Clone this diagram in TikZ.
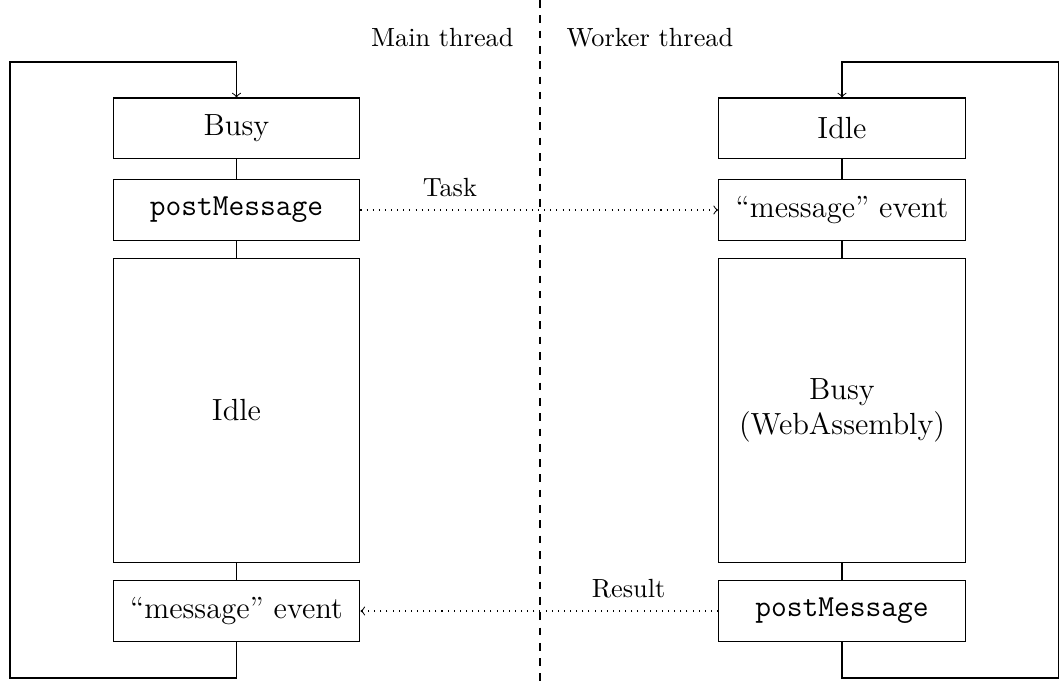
\documentclass[tikz,border=0pt]{standalone}
\usetikzlibrary{arrows}
\begin{document}
\begin{tikzpicture}[x=0.392pt,y=-0.392pt,
  state/.style={draw,rectangle,minimum width=96.8pt,minimum height=23.9pt,inner sep=0pt,font=\large,align=center},
  tall/.style={state,minimum height=118.8pt},
  msg/.style={dotted,->},
  lbl/.style={font=\fontsize{10.3pt}{12pt}\selectfont,inner sep=0pt}]
\useasboundingbox (0,0) rectangle (1059,681);

% thread separator and headings
\coordinate (septop) at (540,0);
\coordinate (sepbot) at (540,681);
\draw[dashed] (septop) -- (sepbot);
\node[lbl,anchor=base east] (mainlbl) at (514,47) {Main thread};
\node[lbl,anchor=base west] (workerlbl) at (566,47) {Worker thread};

% main thread
\node[state] (busyL) at (236.5,128.5) {Busy};
\node[state] (postL) at (236.5,210) {\ttfamily postMessage};
\node[tall]  (idleL) at (236.5,410.5) {Idle};
\node[state] (eventL) at (236.5,611) {``message'' event};

% worker thread
\node[state] (idleR) at (842,128.5) {Idle};
\node[state] (eventR) at (842,210) {``message'' event};
\node[tall]  (busyR) at (842,410.5) {Busy\\(WebAssembly)};
\node[state] (postR) at (842,611) {\ttfamily postMessage};

% sequence links
\draw (busyL) -- (postL) -- (idleL) -- (eventL);
\draw (idleR) -- (eventR) -- (busyR) -- (postR);

% event loops
\draw[->] (eventL.south) |- (10,678) |- (236.5,62) -- (busyL.north);
\draw[->] (postR.south) |- (1059,678) |- (842,62) -- (idleR.north);

% messages
\draw[msg] (postL.east) -- node[pos=0.25,above=5pt,lbl] (tasklbl) {Task} (eventR.west);
\draw[msg] (postR.west) -- node[pos=0.25,above=5pt,lbl] (resultlbl) {Result} (eventL.east);
\end{tikzpicture}
\end{document}
